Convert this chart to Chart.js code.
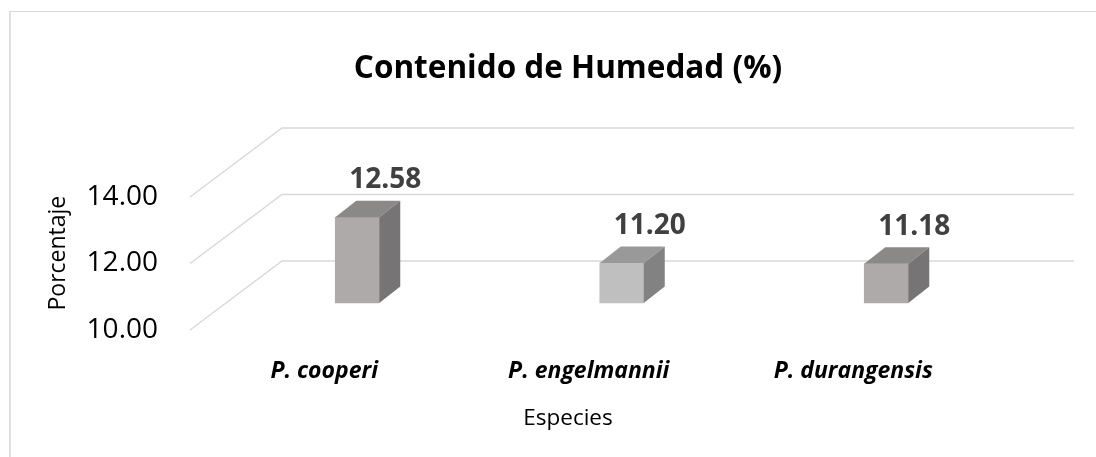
<!DOCTYPE html>
<html>

<head>
  <title>Contenido de Humedad (%)</title>
  <style>
    body {
      margin: 0;
      background: #fff;
      font-family: 'Open Sans', sans-serif;
    }

    canvas {
      position: absolute;
      left: 0;
      top: 0;
    }

    .frame {
      position: absolute;
      left: 9px;
      top: 11px;
      right: 0;
      bottom: 0;
      border-left: 2px solid #e0e0e0;
      border-top: 1px solid #d9d9d9;
      pointer-events: none;
    }
  </style>
  <script src="https://cdn.jsdelivr.net/npm/chart.js"></script>
</head>

<body>
  <canvas id="humedadChart" width="1096" height="457"></canvas>
  <div class="frame"></div>

  <script>
    const especies = ['P. cooperi', 'P. engelmannii', 'P. durangensis'];
    const humedad = [12.58, 11.20, 11.18];
    const yTicks = [10, 12, 14];
    const barColors = ['#aeaaaa', '#bfbfbf', '#aeaaaa'];

    // fake 3D look: depth of each bar, and where the back wall sits
    const DEPTH_X = 21;
    const DEPTH_Y = -16.5;

    function shade(hex, f) {
      const n = parseInt(hex.slice(1), 16);
      const r = Math.round(((n >> 16) & 255) * f);
      const g = Math.round(((n >> 8) & 255) * f);
      const b = Math.round((n & 255) * f);
      return `rgb(${r}, ${g}, ${b})`;
    }

    const bar3d = {
      id: 'bar3d',
      beforeDatasetsDraw(chart) {
        const { ctx, chartArea, scales: { y } } = chart;
        ctx.save();
        ctx.strokeStyle = '#d9d9d9';
        ctx.lineWidth = 1.5;
        yTicks.forEach(v => {
          const py = y.getPixelForValue(v);
          ctx.beginPath();
          ctx.moveTo(chartArea.left - 35, py + 27);
          ctx.lineTo(chartArea.left + 57, py - 42);
          ctx.lineTo(chartArea.right + 55.5, py - 42);
          ctx.stroke();
        });
        ctx.restore();
      },
      afterDatasetsDraw(chart) {
        const { ctx } = chart;
        const meta = chart.getDatasetMeta(0);
        ctx.save();
        meta.data.forEach((bar, i) => {
          const { x, y, base, width } = bar.getProps(['x', 'y', 'base', 'width'], true);
          const l = x - width / 2;
          const r = x + width / 2;

          // top face
          ctx.fillStyle = shade(barColors[i], 0.8);
          ctx.beginPath();
          ctx.moveTo(l, y);
          ctx.lineTo(r, y);
          ctx.lineTo(r + DEPTH_X, y + DEPTH_Y);
          ctx.lineTo(l + DEPTH_X, y + DEPTH_Y);
          ctx.closePath();
          ctx.fill();

          // side face
          ctx.fillStyle = shade(barColors[i], 0.68);
          ctx.beginPath();
          ctx.moveTo(r, y);
          ctx.lineTo(r + DEPTH_X, y + DEPTH_Y);
          ctx.lineTo(r + DEPTH_X, base + DEPTH_Y);
          ctx.lineTo(r, base);
          ctx.closePath();
          ctx.fill();

          // value label
          ctx.fillStyle = '#404040';
          ctx.font = 'bold 28px "Open Sans", sans-serif';
          ctx.textAlign = 'center';
          ctx.textBaseline = 'middle';
          ctx.fillText(humedad[i].toFixed(2), x + 28, y - 37);
        });
        ctx.restore();
      }
    };

    Chart.defaults.font.family = "'Open Sans', sans-serif";
    Chart.defaults.color = '#000';

    new Chart(document.getElementById('humedadChart'), {
      type: 'bar',
      data: {
        labels: especies,
        datasets: [{
          label: 'Contenido de Humedad (%)',
          data: humedad,
          base: 10,
          backgroundColor: barColors,
          barThickness: 44,
          yAxisID: 'y',
        }],
      },
      options: {
        responsive: false,
        animation: false,
        layout: { padding: { left: 40, right: 0, top: 0, bottom: 0 } },
        plugins: {
          legend: { display: false },
          tooltip: { enabled: false },
          title: {
            display: true,
            text: 'Contenido de Humedad (%)',
            color: '#000',
            font: { size: 31.5, weight: 'bold' },
            padding: { top: 50.1, bottom: 82.1 },
          },
          subtitle: {
            display: true,
            position: 'bottom',
            text: 'Especies',
            color: '#000',
            font: { size: 22.5, weight: 'normal' },
            padding: { top: 0, bottom: 24.5 },
          },
        },
        scales: {
          x: {
            grid: { display: false },
            border: { display: false },
            ticks: {
              color: '#000',
              font: { size: 23, weight: 'bold', style: 'italic' },
              padding: 13,
              labelOffset: -33,
            },
            afterFit: s => { s.height = 69.25; },
          },
          y: {
            min: 9,
            max: 14,
            afterBuildTicks: s => { s.ticks = yTicks.map(v => ({ value: v })); },
            grid: { display: false },
            border: { display: false },
            ticks: {
              color: '#000',
              font: { size: 28 },
              padding: 59,
              labelOffset: 27,
              callback: v => Number(v).toFixed(2),
            },
            title: {
              display: true,
              text: 'Porcentaje',
              color: '#000',
              font: { size: 23 },
              padding: { top: 4.7, bottom: 0 },
            },
            afterFit: s => { s.width = 185; },
          },
          yR: {
            position: 'right',
            grid: { display: false },
            border: { display: false },
            ticks: { display: false },
            afterFit: s => { s.width = 77.5; },
          },
        },
      },
      plugins: [bar3d],
    });
  </script>
</body>

</html>
